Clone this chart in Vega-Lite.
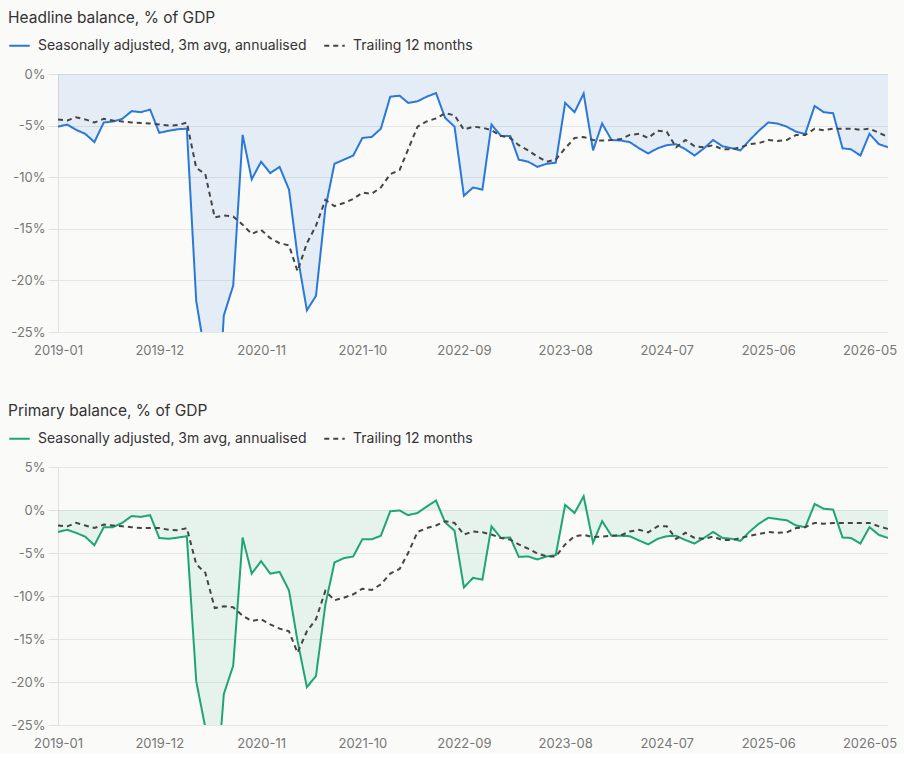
{
  "$schema": "https://vega.github.io/schema/vega-lite/v6.json",
  "background": "#fafaf9",
  "padding": {"left": 8, "top": 10, "right": 10, "bottom": 4},
  "spacing": 46,
  "config": {
    "font": "Inter",
    "view": {"stroke": null},
    "title": {"fontSize": 15.5, "fontWeight": "normal", "color": "#333333", "anchor": "start", "frame": "group"},
    "axis": {"labelColor": "#777777", "labelFontSize": 13, "gridColor": "#e6e6e3", "domainColor": "#e0e0dc", "tickColor": "#e0e0dc", "title": null},
    "legend": {
      "orient": "none", "legendX": -50, "legendY": -40, "direction": "horizontal",
      "symbolType": "stroke", "symbolSize": 420, "symbolStrokeWidth": 2,
      "labelFontSize": 14, "labelColor": "#333333", "labelOffset": 7, "labelLimit": 0, "columnPadding": 13, "title": null
    }
  },
  "datasets": {
    "headline": [
      {"d": "2019-01-01", "sa": -5.1, "t12": -4.4},
      {"d": "2019-02-01", "sa": -4.9, "t12": -4.5},
      {"d": "2019-03-01", "sa": -5.4, "t12": -4.2},
      {"d": "2019-04-01", "sa": -5.8, "t12": -4.4},
      {"d": "2019-05-01", "sa": -6.6, "t12": -4.7},
      {"d": "2019-06-01", "sa": -4.7, "t12": -4.35},
      {"d": "2019-07-01", "sa": -4.6, "t12": -4.5},
      {"d": "2019-08-01", "sa": -4.35, "t12": -4.6},
      {"d": "2019-09-01", "sa": -3.6, "t12": -4.7},
      {"d": "2019-10-01", "sa": -3.7, "t12": -4.75},
      {"d": "2019-11-01", "sa": -3.45, "t12": -4.8},
      {"d": "2019-12-01", "sa": -5.7, "t12": -4.9},
      {"d": "2020-01-01", "sa": -5.5, "t12": -5.0},
      {"d": "2020-02-01", "sa": -5.35, "t12": -4.95},
      {"d": "2020-03-01", "sa": -5.3, "t12": -4.7},
      {"d": "2020-04-01", "sa": -22.0, "t12": -9.1},
      {"d": "2020-05-01", "sa": -27.3, "t12": -9.7},
      {"d": "2020-06-01", "sa": -38.0, "t12": -13.9},
      {"d": "2020-07-01", "sa": -23.4, "t12": -13.7},
      {"d": "2020-08-01", "sa": -20.5, "t12": -13.8},
      {"d": "2020-09-01", "sa": -5.9, "t12": -14.6},
      {"d": "2020-10-01", "sa": -10.2, "t12": -15.5},
      {"d": "2020-11-01", "sa": -8.5, "t12": -15.1},
      {"d": "2020-12-01", "sa": -9.6, "t12": -15.9},
      {"d": "2021-01-01", "sa": -9.0, "t12": -16.4},
      {"d": "2021-02-01", "sa": -11.2, "t12": -16.6},
      {"d": "2021-03-01", "sa": -17.6, "t12": -19.1},
      {"d": "2021-04-01", "sa": -22.9, "t12": -16.4},
      {"d": "2021-05-01", "sa": -21.5, "t12": -14.7},
      {"d": "2021-06-01", "sa": -13.0, "t12": -12.2},
      {"d": "2021-07-01", "sa": -8.7, "t12": -12.8},
      {"d": "2021-08-01", "sa": -8.3, "t12": -12.5},
      {"d": "2021-09-01", "sa": -7.9, "t12": -12.1},
      {"d": "2021-10-01", "sa": -6.2, "t12": -11.5},
      {"d": "2021-11-01", "sa": -6.1, "t12": -11.6},
      {"d": "2021-12-01", "sa": -5.3, "t12": -11.0},
      {"d": "2022-01-01", "sa": -2.2, "t12": -9.7},
      {"d": "2022-02-01", "sa": -2.1, "t12": -9.3},
      {"d": "2022-03-01", "sa": -2.8, "t12": -7.3},
      {"d": "2022-04-01", "sa": -2.65, "t12": -5.1},
      {"d": "2022-05-01", "sa": -2.2, "t12": -4.6},
      {"d": "2022-06-01", "sa": -1.85, "t12": -4.3},
      {"d": "2022-07-01", "sa": -4.25, "t12": -3.8},
      {"d": "2022-08-01", "sa": -5.1, "t12": -4.0},
      {"d": "2022-09-01", "sa": -11.8, "t12": -5.4},
      {"d": "2022-10-01", "sa": -11.0, "t12": -5.1},
      {"d": "2022-11-01", "sa": -11.2, "t12": -5.2},
      {"d": "2022-12-01", "sa": -4.9, "t12": -5.45},
      {"d": "2023-01-01", "sa": -6.0, "t12": -6.0},
      {"d": "2023-02-01", "sa": -6.0, "t12": -6.2},
      {"d": "2023-03-01", "sa": -8.3, "t12": -6.9},
      {"d": "2023-04-01", "sa": -8.5, "t12": -7.4},
      {"d": "2023-05-01", "sa": -9.0, "t12": -8.0},
      {"d": "2023-06-01", "sa": -8.7, "t12": -8.5},
      {"d": "2023-07-01", "sa": -8.6, "t12": -8.3},
      {"d": "2023-08-01", "sa": -2.8, "t12": -7.2},
      {"d": "2023-09-01", "sa": -3.7, "t12": -6.2},
      {"d": "2023-10-01", "sa": -1.9, "t12": -6.1},
      {"d": "2023-11-01", "sa": -7.4, "t12": -6.4},
      {"d": "2023-12-01", "sa": -4.8, "t12": -6.45},
      {"d": "2024-01-01", "sa": -6.4, "t12": -6.4},
      {"d": "2024-02-01", "sa": -6.45, "t12": -6.3},
      {"d": "2024-03-01", "sa": -6.6, "t12": -5.9},
      {"d": "2024-04-01", "sa": -7.2, "t12": -5.8},
      {"d": "2024-05-01", "sa": -7.7, "t12": -6.2},
      {"d": "2024-06-01", "sa": -7.2, "t12": -5.5},
      {"d": "2024-07-01", "sa": -6.9, "t12": -5.6},
      {"d": "2024-08-01", "sa": -6.8, "t12": -7.1},
      {"d": "2024-09-01", "sa": -7.3, "t12": -6.4},
      {"d": "2024-10-01", "sa": -7.9, "t12": -7.0},
      {"d": "2024-11-01", "sa": -7.2, "t12": -7.1},
      {"d": "2024-12-01", "sa": -6.4, "t12": -6.9},
      {"d": "2025-01-01", "sa": -7.0, "t12": -7.3},
      {"d": "2025-02-01", "sa": -7.2, "t12": -7.3},
      {"d": "2025-03-01", "sa": -7.4, "t12": -7.1},
      {"d": "2025-04-01", "sa": -6.4, "t12": -6.8},
      {"d": "2025-05-01", "sa": -5.5, "t12": -6.7},
      {"d": "2025-06-01", "sa": -4.7, "t12": -6.4},
      {"d": "2025-07-01", "sa": -4.8, "t12": -6.5},
      {"d": "2025-08-01", "sa": -5.1, "t12": -6.4},
      {"d": "2025-09-01", "sa": -5.6, "t12": -5.9},
      {"d": "2025-10-01", "sa": -5.8, "t12": -5.9},
      {"d": "2025-11-01", "sa": -3.1, "t12": -5.3},
      {"d": "2025-12-01", "sa": -3.7, "t12": -5.45},
      {"d": "2026-01-01", "sa": -3.8, "t12": -5.3},
      {"d": "2026-02-01", "sa": -7.2, "t12": -5.3},
      {"d": "2026-03-01", "sa": -7.3, "t12": -5.3},
      {"d": "2026-04-01", "sa": -7.9, "t12": -5.4},
      {"d": "2026-05-01", "sa": -5.8, "t12": -5.3},
      {"d": "2026-06-01", "sa": -6.8, "t12": -5.7},
      {"d": "2026-07-01", "sa": -7.1, "t12": -6.1}
    ],
    "primary": [
      {"d": "2019-01-01", "sa": -2.55, "t12": -1.8},
      {"d": "2019-02-01", "sa": -2.3, "t12": -1.9},
      {"d": "2019-03-01", "sa": -2.65, "t12": -1.5},
      {"d": "2019-04-01", "sa": -3.1, "t12": -1.8},
      {"d": "2019-05-01", "sa": -4.1, "t12": -2.1},
      {"d": "2019-06-01", "sa": -2.0, "t12": -1.7},
      {"d": "2019-07-01", "sa": -2.0, "t12": -1.8},
      {"d": "2019-08-01", "sa": -1.5, "t12": -1.9},
      {"d": "2019-09-01", "sa": -0.7, "t12": -2.0},
      {"d": "2019-10-01", "sa": -0.8, "t12": -2.1},
      {"d": "2019-11-01", "sa": -0.6, "t12": -2.1},
      {"d": "2019-12-01", "sa": -3.25, "t12": -2.1},
      {"d": "2020-01-01", "sa": -3.35, "t12": -2.3},
      {"d": "2020-02-01", "sa": -3.2, "t12": -2.35},
      {"d": "2020-03-01", "sa": -3.05, "t12": -2.1},
      {"d": "2020-04-01", "sa": -19.9, "t12": -6.3},
      {"d": "2020-05-01", "sa": -25.3, "t12": -7.3},
      {"d": "2020-06-01", "sa": -35.0, "t12": -11.4},
      {"d": "2020-07-01", "sa": -21.4, "t12": -11.2},
      {"d": "2020-08-01", "sa": -18.1, "t12": -11.3},
      {"d": "2020-09-01", "sa": -3.2, "t12": -12.3},
      {"d": "2020-10-01", "sa": -7.4, "t12": -12.9},
      {"d": "2020-11-01", "sa": -5.95, "t12": -12.7},
      {"d": "2020-12-01", "sa": -7.4, "t12": -13.3},
      {"d": "2021-01-01", "sa": -7.2, "t12": -13.8},
      {"d": "2021-02-01", "sa": -9.35, "t12": -14.1},
      {"d": "2021-03-01", "sa": -15.2, "t12": -16.6},
      {"d": "2021-04-01", "sa": -20.6, "t12": -14.1},
      {"d": "2021-05-01", "sa": -19.3, "t12": -12.7},
      {"d": "2021-06-01", "sa": -11.0, "t12": -9.4},
      {"d": "2021-07-01", "sa": -6.1, "t12": -10.5},
      {"d": "2021-08-01", "sa": -5.6, "t12": -10.2},
      {"d": "2021-09-01", "sa": -5.4, "t12": -9.8},
      {"d": "2021-10-01", "sa": -3.4, "t12": -9.15},
      {"d": "2021-11-01", "sa": -3.4, "t12": -9.3},
      {"d": "2021-12-01", "sa": -3.0, "t12": -8.65},
      {"d": "2022-01-01", "sa": -0.15, "t12": -7.4},
      {"d": "2022-02-01", "sa": -0.05, "t12": -6.85},
      {"d": "2022-03-01", "sa": -0.6, "t12": -5.0},
      {"d": "2022-04-01", "sa": -0.35, "t12": -2.55},
      {"d": "2022-05-01", "sa": 0.4, "t12": -2.1},
      {"d": "2022-06-01", "sa": 1.1, "t12": -1.8},
      {"d": "2022-07-01", "sa": -1.45, "t12": -1.3},
      {"d": "2022-08-01", "sa": -2.4, "t12": -1.5},
      {"d": "2022-09-01", "sa": -9.0, "t12": -2.85},
      {"d": "2022-10-01", "sa": -7.9, "t12": -2.5},
      {"d": "2022-11-01", "sa": -8.1, "t12": -2.6},
      {"d": "2022-12-01", "sa": -1.9, "t12": -2.85},
      {"d": "2023-01-01", "sa": -3.25, "t12": -3.25},
      {"d": "2023-02-01", "sa": -3.2, "t12": -3.45},
      {"d": "2023-03-01", "sa": -5.45, "t12": -4.0},
      {"d": "2023-04-01", "sa": -5.4, "t12": -4.5},
      {"d": "2023-05-01", "sa": -5.75, "t12": -5.05},
      {"d": "2023-06-01", "sa": -5.4, "t12": -5.4},
      {"d": "2023-07-01", "sa": -5.25, "t12": -5.4},
      {"d": "2023-08-01", "sa": 0.6, "t12": -4.0},
      {"d": "2023-09-01", "sa": -0.35, "t12": -3.05},
      {"d": "2023-10-01", "sa": 1.6, "t12": -2.9},
      {"d": "2023-11-01", "sa": -3.8, "t12": -3.15},
      {"d": "2023-12-01", "sa": -1.3, "t12": -3.1},
      {"d": "2024-01-01", "sa": -3.0, "t12": -3.0},
      {"d": "2024-02-01", "sa": -3.0, "t12": -2.95},
      {"d": "2024-03-01", "sa": -3.05, "t12": -2.5},
      {"d": "2024-04-01", "sa": -3.55, "t12": -2.3},
      {"d": "2024-05-01", "sa": -4.0, "t12": -2.6},
      {"d": "2024-06-01", "sa": -3.35, "t12": -1.9},
      {"d": "2024-07-01", "sa": -3.05, "t12": -1.9},
      {"d": "2024-08-01", "sa": -3.0, "t12": -3.35},
      {"d": "2024-09-01", "sa": -3.5, "t12": -2.65},
      {"d": "2024-10-01", "sa": -3.9, "t12": -3.25},
      {"d": "2024-11-01", "sa": -3.25, "t12": -3.35},
      {"d": "2024-12-01", "sa": -2.55, "t12": -3.1},
      {"d": "2025-01-01", "sa": -3.25, "t12": -3.5},
      {"d": "2025-02-01", "sa": -3.35, "t12": -3.5},
      {"d": "2025-03-01", "sa": -3.6, "t12": -3.25},
      {"d": "2025-04-01", "sa": -2.5, "t12": -3.0},
      {"d": "2025-05-01", "sa": -1.6, "t12": -2.8},
      {"d": "2025-06-01", "sa": -0.9, "t12": -2.55},
      {"d": "2025-07-01", "sa": -1.05, "t12": -2.65},
      {"d": "2025-08-01", "sa": -1.2, "t12": -2.6},
      {"d": "2025-09-01", "sa": -1.8, "t12": -2.1},
      {"d": "2025-10-01", "sa": -2.0, "t12": -2.0},
      {"d": "2025-11-01", "sa": 0.7, "t12": -1.5},
      {"d": "2025-12-01", "sa": 0.15, "t12": -1.6},
      {"d": "2026-01-01", "sa": 0.05, "t12": -1.5},
      {"d": "2026-02-01", "sa": -3.2, "t12": -1.5},
      {"d": "2026-03-01", "sa": -3.25, "t12": -1.5},
      {"d": "2026-04-01", "sa": -3.9, "t12": -1.5},
      {"d": "2026-05-01", "sa": -2.0, "t12": -1.5},
      {"d": "2026-06-01", "sa": -2.9, "t12": -1.9},
      {"d": "2026-07-01", "sa": -3.25, "t12": -2.2}
    ]
  },
  "vconcat": [
    {
      "width": 830,
      "height": 258,
      "data": {"name": "headline"},
      "title": {"text": "Headline balance, % of GDP", "dx": -50, "offset": 8},
      "encoding": {
        "x": {
          "field": "d", "type": "temporal",
          "scale": {"type": "utc", "domain": [{"year": 2019, "month": 1, "date": 1, "utc": true}, {"year": 2026, "month": 7, "date": 1, "utc": true}]},
          "axis": {
            "values": [
              {"year": 2019, "month": 1, "date": 1, "utc": true},
              {"year": 2019, "month": 12, "date": 1, "utc": true},
              {"year": 2020, "month": 11, "date": 1, "utc": true},
              {"year": 2021, "month": 10, "date": 1, "utc": true},
              {"year": 2022, "month": 9, "date": 1, "utc": true},
              {"year": 2023, "month": 8, "date": 1, "utc": true},
              {"year": 2024, "month": 7, "date": 1, "utc": true},
              {"year": 2025, "month": 6, "date": 1, "utc": true},
              {"year": 2026, "month": 5, "date": 1, "utc": true}
            ],
            "format": "%Y-%m", "grid": false, "ticks": false, "domain": false, "labelPadding": 12, "labelFlush": false
          }
        }
      },
      "layer": [
        {
          "mark": {"type": "area", "color": "#2a78d8", "opacity": 0.1, "clip": true},
          "encoding": {
            "y": {
              "field": "sa", "type": "quantitative",
              "scale": {"domain": [-25, 0], "nice": false},
              "axis": {"values": [0, -5, -10, -15, -20, -25], "labelExpr": "datum.value + '%'", "tickSize": 10, "labelPadding": 3}
            },
            "y2": {"datum": 0}
          }
        },
        {
          "transform": [{"fold": ["sa", "t12"], "as": ["key", "value"]}],
          "mark": {"type": "line", "strokeWidth": 2, "clip": true},
          "encoding": {
            "y": {"field": "value", "type": "quantitative"},
            "color": {
              "field": "key", "type": "nominal",
              "scale": {"domain": ["sa", "t12"], "range": ["#2a78d8", "#454545"]},
              "legend": {"labelExpr": "datum.label == 'sa' ? 'Seasonally adjusted, 3m avg, annualised' : 'Trailing 12 months'"}
            },
            "strokeDash": {
              "field": "key", "type": "nominal",
              "scale": {"domain": ["sa", "t12"], "range": [[1, 0], [5, 4]]},
              "legend": {"labelExpr": "datum.label == 'sa' ? 'Seasonally adjusted, 3m avg, annualised' : 'Trailing 12 months'"}
            }
          }
        }
      ]
    },
    {
      "width": 830,
      "height": 258,
      "data": {"name": "primary"},
      "title": {"text": "Primary balance, % of GDP", "dx": -50, "offset": 8},
      "encoding": {
        "x": {
          "field": "d", "type": "temporal",
          "scale": {"type": "utc", "domain": [{"year": 2019, "month": 1, "date": 1, "utc": true}, {"year": 2026, "month": 7, "date": 1, "utc": true}]},
          "axis": {
            "values": [
              {"year": 2019, "month": 1, "date": 1, "utc": true},
              {"year": 2019, "month": 12, "date": 1, "utc": true},
              {"year": 2020, "month": 11, "date": 1, "utc": true},
              {"year": 2021, "month": 10, "date": 1, "utc": true},
              {"year": 2022, "month": 9, "date": 1, "utc": true},
              {"year": 2023, "month": 8, "date": 1, "utc": true},
              {"year": 2024, "month": 7, "date": 1, "utc": true},
              {"year": 2025, "month": 6, "date": 1, "utc": true},
              {"year": 2026, "month": 5, "date": 1, "utc": true}
            ],
            "format": "%Y-%m", "grid": false, "ticks": false, "domain": false, "labelPadding": 12, "labelFlush": false
          }
        }
      },
      "layer": [
        {
          "mark": {"type": "area", "color": "#1ea672", "opacity": 0.09, "clip": true},
          "encoding": {
            "y": {
              "field": "sa", "type": "quantitative",
              "scale": {"domain": [-25, 5], "nice": false},
              "axis": {"values": [5, 0, -5, -10, -15, -20, -25], "labelExpr": "datum.value + '%'", "tickSize": 10, "labelPadding": 3}
            },
            "y2": {"datum": 0}
          }
        },
        {
          "transform": [{"fold": ["sa", "t12"], "as": ["key", "value"]}],
          "mark": {"type": "line", "strokeWidth": 2, "clip": true},
          "encoding": {
            "y": {"field": "value", "type": "quantitative"},
            "color": {
              "field": "key", "type": "nominal",
              "scale": {"domain": ["sa", "t12"], "range": ["#1ea672", "#454545"]},
              "legend": {"labelExpr": "datum.label == 'sa' ? 'Seasonally adjusted, 3m avg, annualised' : 'Trailing 12 months'"}
            },
            "strokeDash": {
              "field": "key", "type": "nominal",
              "scale": {"domain": ["sa", "t12"], "range": [[1, 0], [5, 4]]},
              "legend": {"labelExpr": "datum.label == 'sa' ? 'Seasonally adjusted, 3m avg, annualised' : 'Trailing 12 months'"}
            }
          }
        }
      ]
    }
  ],
  "resolve": {"scale": {"color": "independent", "strokeDash": "independent", "y": "independent"}, "legend": {"color": "independent", "strokeDash": "independent"}}
}
